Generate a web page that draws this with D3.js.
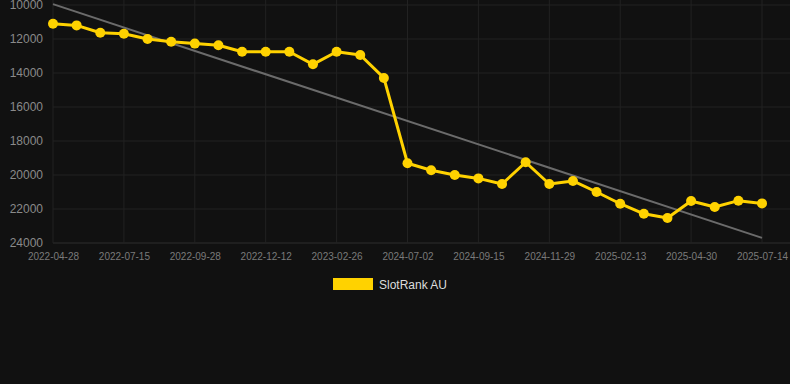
<!DOCTYPE html>
<html>
<head>
<meta charset="utf-8">
<script src="https://cdn.jsdelivr.net/npm/d3@7"></script>
<style>
	body { margin: 0; background: #111111; }
	svg { display: block; font-family: "Liberation Sans", Arial, sans-serif; }
</style>
</head>
<body>
<script>

// dates of each point (only every third one is labelled on the axis)
let dates = ["2022-04-28", "2022-05-24", "2022-06-19", "2022-07-15", "2022-08-09", "2022-09-03",
	"2022-09-28", "2022-10-23", "2022-11-17", "2022-12-12", "2023-01-06", "2023-02-01",
	"2023-02-26", "2023-03-23", "2023-04-17", "2024-07-02", "2024-07-27", "2024-08-21",
	"2024-09-15", "2024-10-10", "2024-11-04", "2024-11-29", "2024-12-24", "2025-01-19",
	"2025-02-13", "2025-03-10", "2025-04-04", "2025-04-30", "2025-05-25", "2025-06-19",
	"2025-07-14"];

let ranks = [11100, 11200, 11630, 11690, 12000, 12160, 12270, 12370, 12750, 12750, 12750, 13490,
	12750, 12940, 14290, 19310, 19720, 20000, 20200, 20530, 19250, 20530, 20350, 21000,
	21690, 22280, 22530, 21530, 21880, 21510, 21670];

// trend line: value at first and last date
let trend = [9950, 23700];

let yTicks = [10000, 12000, 14000, 16000, 18000, 20000, 22000, 24000];
let seriesName = "SlotRank AU";

let width = 790, height = 384;
let margin = {top: 5, right: 28, bottom: 141, left: 53};

var svg = d3.select("body").append("svg")
	.attr("width", width)
	.attr("height", height);

var x = d3.scalePoint()
	.domain(dates)
	.range([margin.left, width - margin.right]);

var y = d3.scaleLinear()
	.domain([10000, 24000])
	.range([margin.top, height - margin.bottom]);

var labelled = dates.filter(function (d, i) { return i % 3 == 0; });

// grid
svg.append("g")
	.selectAll("line")
	.data(yTicks)
	.enter().append("line")
	.attr("x1", margin.left)
	.attr("x2", width)
	.attr("y1", function (d) { return y(d); })
	.attr("y2", function (d) { return y(d); })
	.attr("stroke", function (d) { return d == 24000 ? "#2e2e2e" : "#222222"; })
	.attr("stroke-width", 1);

svg.append("g")
	.selectAll("line")
	.data(labelled)
	.enter().append("line")
	.attr("x1", function (d) { return x(d); })
	.attr("x2", function (d) { return x(d); })
	.attr("y1", 0)
	.attr("y2", y(24000))
	.attr("stroke", "#222222")
	.attr("stroke-width", 1);

// axes
var yAxis = d3.axisLeft(y).tickValues(yTicks).tickSize(0).tickPadding(10).tickFormat(d3.format("d"));
var xAxis = d3.axisBottom(x).tickValues(labelled).tickSize(0).tickPadding(10);

var gy = svg.append("g")
	.attr("transform", "translate(" + margin.left + ",0)")
	.call(yAxis);
gy.select(".domain").remove();
gy.selectAll("text").attr("fill", "#8a8a8a").style("font-size", "12px");

var gx = svg.append("g")
	.attr("transform", "translate(0," + y(24000) + ")")
	.call(xAxis);
gx.select(".domain").remove();
gx.selectAll("text").attr("fill", "#7a7a7a").style("font-size", "10px");

// trend line
svg.append("line")
	.attr("x1", x(dates[0]))
	.attr("y1", y(trend[0]))
	.attr("x2", x(dates[dates.length - 1]))
	.attr("y2", y(trend[1]))
	.attr("stroke", "#6b6b6b")
	.attr("stroke-width", 2);

// series
var line = d3.line()
	.x(function (d, i) { return x(dates[i]); })
	.y(function (d) { return y(d); });

svg.append("path")
	.datum(ranks)
	.attr("d", line)
	.attr("fill", "none")
	.attr("stroke", "#FFD200")
	.attr("stroke-width", 3)
	.attr("stroke-linejoin", "round");

svg.append("g")
	.selectAll("circle")
	.data(ranks)
	.enter().append("circle")
	.attr("cx", function (d, i) { return x(dates[i]); })
	.attr("cy", function (d) { return y(d); })
	.attr("r", 5)
	.attr("fill", "#FFD200");

// legend
svg.append("rect")
	.attr("x", 333)
	.attr("y", 278)
	.attr("width", 40)
	.attr("height", 12)
	.attr("fill", "#FFD200");

svg.append("text")
	.attr("x", 379)
	.attr("y", 288.5)
	.attr("fill", "#dddddd")
	.style("font-size", "12px")
	.text(seriesName);

</script>
</body>
</html>
